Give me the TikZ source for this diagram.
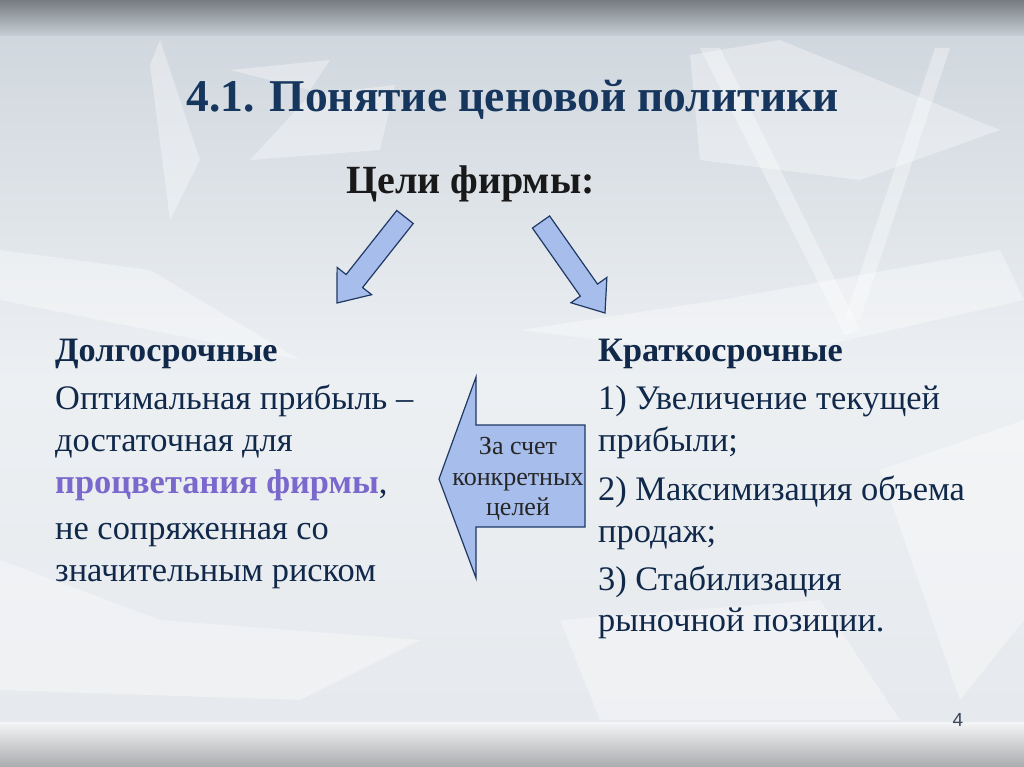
\documentclass[tikz,border=0pt]{standalone}
\usepackage{fontspec}
\setmainfont{Liberation Serif}
\newfontfamily\numfont{Liberation Sans}
\usetikzlibrary{calc}
\definecolor{titlecol}{HTML}{17365D}
\definecolor{navy}{HTML}{10284A}
\definecolor{accent}{HTML}{7A68CC}
\definecolor{arrfill}{HTML}{A7BDEB}
\definecolor{arrline}{HTML}{1F3864}
\definecolor{bgmid}{HTML}{E4E9EE}
\definecolor{bga}{HTML}{D0D7DE}
\definecolor{bgb}{HTML}{EDF0F3}
\definecolor{bgc}{HTML}{E6E9ED}
\definecolor{topa}{HTML}{767C80}
\definecolor{topb}{HTML}{C8D0D7}
\definecolor{bota}{HTML}{F4F5F6}
\definecolor{botb}{HTML}{A9ABAE}
\definecolor{pgcol}{HTML}{3A4656}
\newcommand{\blockarrow}[2]{%
  \coordinate (#1hb) at ($(#2)!28pt!(#1)$);
  \path[blockarr] ($(#1)!10.5pt!90:(#2)$) -- ($(#1hb)!10.5pt!-90:(#1)$)
    -- ($(#1hb)!22pt!-90:(#1)$) -- (#2) -- ($(#1hb)!22pt!90:(#1)$)
    -- ($(#1hb)!10.5pt!90:(#1)$) -- ($(#1)!10.5pt!-90:(#2)$) -- cycle;}
\begin{document}
\begin{tikzpicture}[x=1pt,y=-1pt,
  blockarr/.style={fill=arrfill, draw=arrline, line width=1.2pt, line join=miter},
  ice/.style={fill=white, opacity=0.35},
  title/.style={text=titlecol, font=\fontsize{45.5}{52}\selectfont\bfseries, inner sep=0pt},
  goals/.style={text=black!90, font=\fontsize{40}{46}\selectfont\bfseries, inner sep=0pt},
  head/.style={text=navy, font=\fontsize{34.2}{40}\selectfont\bfseries, inner sep=0pt, anchor=base west},
  body/.style={text=navy, font=\fontsize{34.4}{40}\selectfont, inner sep=0pt, anchor=base west},
  small/.style={text=black!85, font=\fontsize{26}{30.5}\selectfont, inner sep=0pt}]
\useasboundingbox (0,0) rectangle (1024,767);
% background
\fill[bgmid] (0,0) rectangle (1024,767);
\shade[top color=bga, bottom color=bgb] (0,35) rectangle (1024,380);
\shade[top color=bgb, bottom color=bgc] (0,380) rectangle (1024,722);
\shade[top color=topa, bottom color=topb] (0,0) rectangle (1024,36);
\shade[top color=bota, bottom color=botb] (0,722) rectangle (1024,767);
% ice shards
\fill[ice] (150,65) -- (160,40) -- (200,160) -- (170,220) -- cycle;
\fill[ice] (230,70) -- (330,60) -- (310,90) -- cycle;
\fill[ice] (395,85) -- (310,95) -- (250,160) -- (380,150) -- cycle;
\fill[ice] (690,55) -- (780,40) -- (1000,130) -- (860,180) -- (700,160) -- cycle;
\fill[ice] (700,48) -- (720,48) -- (860,330) -- (845,335) -- cycle;
\fill[ice] (935,48) -- (950,48) -- (860,320) -- (845,318) -- cycle;
\fill[ice] (520,330) -- (720,300) -- (1000,250) -- (1024,300) -- (760,360) -- cycle;
\fill[ice] (0,250) -- (150,270) -- (300,360) -- (0,300) -- cycle;
\fill[ice] (880,470) -- (1024,420) -- (1024,620) -- (960,700) -- cycle;
\fill[ice] (0,560) -- (160,620) -- (420,640) -- (300,700) -- (0,690) -- cycle;
\fill[ice] (560,620) -- (820,600) -- (900,720) -- (600,720) -- cycle;
% titles
\node[title, anchor=base] (title) at (512.5,112) {4.1. Понятие ценовой политики};
\node[goals, anchor=base] (goals) at (470.5,194) {Цели фирмы:};
% arrows
\coordinate (la) at (405,217); \coordinate (lt) at (337,303);
\coordinate (ra) at (541,222); \coordinate (rt) at (605,313);
\blockarrow{la}{lt}
\blockarrow{ra}{rt}
% left column
\node[head] (long) at (55,361) {Долгосрочные};
\node[body] (l1) at (55,409) {Оптимальная прибыль –};
\node[body] (l2) at (55,451) {достаточная для};
\node[body] (l3) at (55,493) {\textcolor{accent}{\bfseries процветания фирмы},};
\node[body] (l4) at (55,539) {не сопряженная со};
\node[body] (l5) at (55,581) {значительным риском};
% right column
\node[head] (short) at (598,361) {Краткосрочные};
\node[body] (r1) at (598,409) {1) Увеличение текущей};
\node[body] (r2) at (598,451) {прибыли;};
\node[body] (r3) at (598,500) {2) Максимизация объема};
\node[body] (r4) at (598,542) {продаж;};
\node[body] (r5) at (598,590) {3) Стабилизация};
\node[body] (r6) at (598,631) {рыночной позиции.};
% callout arrow
\path[blockarr] (439,479) -- (476,377) -- (476,425) -- (585,425) -- (585,527) -- (476,527) -- (476,578) -- cycle;
\node[small, align=center] (via) at (518,479) {За счет\\конкретных\\целей};
% page number
\node[text=pgcol, font=\numfont\fontsize{19}{21}\selectfont, inner sep=0pt] (pg) at (958,720) {4};
\end{tikzpicture}
\end{document}
